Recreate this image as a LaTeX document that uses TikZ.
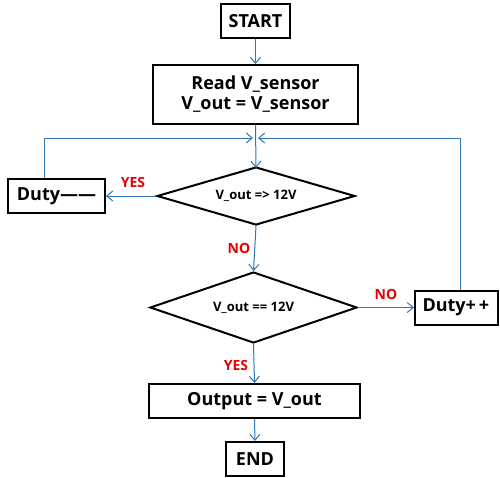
\documentclass[tikz,border=0pt]{standalone}
\usepackage{fontspec}
\setmainfont{Open Sans}
\usetikzlibrary{arrows.meta,shapes.geometric}
\definecolor{flow}{RGB}{46,117,182}
\definecolor{lab}{RGB}{230,0,0}
\begin{document}
\begin{tikzpicture}[x=1pt,y=-1pt,
  box/.style={draw=black,line width=2pt,fill=white,inner sep=0pt,font=\fontsize{18}{21}\selectfont\bfseries,align=center},
  dtext/.style={font=\fontsize{13}{15}\selectfont\bfseries},
  conn/.style={draw=flow,line width=1pt,-{Straight Barb[length=6pt,width=10pt,line width=1pt]}},
  plain/.style={draw=flow,line width=1pt},
  yn/.style={text=lab,font=\fontsize{14}{16}\selectfont\bfseries}]
\useasboundingbox (0,0) rectangle (500,477);
\node[box,minimum width=69pt,minimum height=34pt] (start) at (255.5,21) {START};
\node[box,minimum width=205pt,minimum height=59pt] (read) at (255.5,94.5) {Read V\_sensor\\[-1pt]V\_out = V\_sensor};
\node[draw=black,line width=2pt,fill=white,shape=diamond,aspect=3.41,inner sep=0pt,minimum width=198pt,minimum height=58pt] (d1) at (256,196) {};
\node[dtext] (d1t) at (256,196) {V\_out => 12V};
\node[box,minimum width=97pt,minimum height=34pt] (dec) at (56.5,196) {Duty——};
\node[draw=black,line width=2pt,fill=white,shape=diamond,aspect=2.9,inner sep=0pt,minimum width=207pt,minimum height=71pt] (d2) at (253.5,307.5) {};
\node[dtext] (d2t) at (253.5,307.5) {V\_out == 12V};
\node[box,minimum width=83pt,minimum height=34pt,text width=80pt,align=left] (inc) at (456.5,307.5) {\hspace{6pt}Duty+\,+};
\node[box,minimum width=211pt,minimum height=34pt] (outp) at (254.5,401) {Output = V\_out};
\node[box,minimum width=58pt,minimum height=34pt] (end) at (255,459) {END};
\coordinate (j) at (255,138);
\coordinate (jl) at (44,138);
\coordinate (jr) at (460,138);
\draw[conn] (start.south) -- (read.north);
\draw[conn] (read.south) -- ([yshift=-2pt]d1.north);
\draw[plain] (dec.north -| jl) -- (jl);
\draw[conn] (jl) -- ([xshift=-2pt]j);
\draw[plain] (inc.north -| jr) -- (jr);
\draw[conn] (jr) -- ([xshift=3pt]j);
\draw[conn] (d1.west) -- (dec.east);
\draw[conn] (d1.south) -- (d2.north);
\draw[conn] (d2.east) -- (inc.west);
\draw[conn] (d2.south) -- (outp.north);
\draw[conn] (outp.south) -- (end.north);
\node[yn] (y1) at (133,182) {YES};
\node[yn] (n1) at (239,248) {NO};
\node[yn] (n2) at (386,294) {NO};
\node[yn] (y2) at (236,365) {YES};
\end{tikzpicture}
\end{document}
